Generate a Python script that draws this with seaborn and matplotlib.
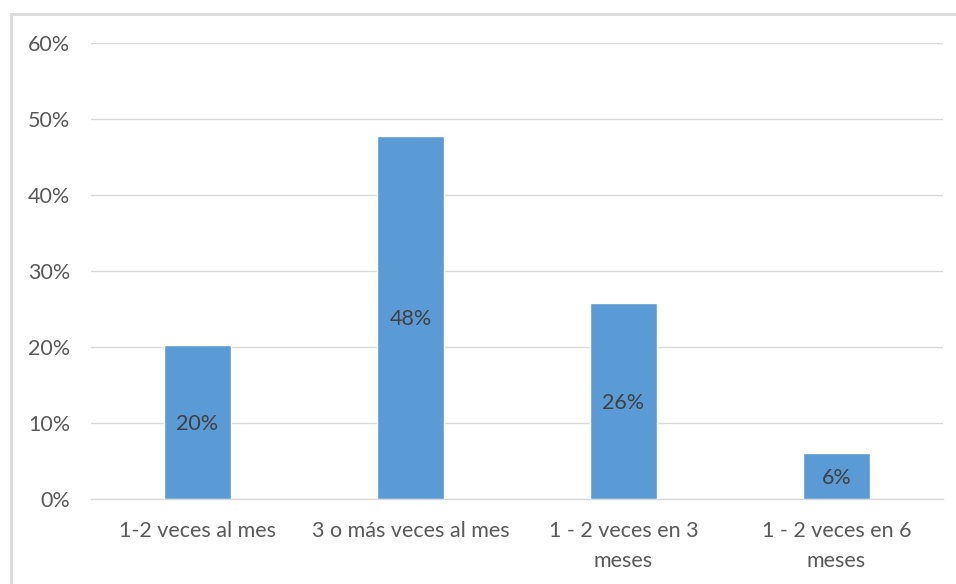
import matplotlib
matplotlib.use("Agg")
import matplotlib.pyplot as plt
import seaborn as sns
import pandas as pd
from matplotlib.patches import Rectangle
from matplotlib.ticker import PercentFormatter

categories = ["1-2 veces al mes", "3 o más veces al mes",
              "1 - 2 veces en 3\nmeses", "1 - 2 veces en 6\nmeses"]
shares = [0.203, 0.478, 0.258, 0.061]
y_ticks = [0.0, 0.1, 0.2, 0.3, 0.4, 0.5, 0.6]

df = pd.DataFrame({"frecuencia": categories, "porcentaje": shares})

sns.set_theme(style="white")
plt.rcParams["font.family"] = ["Lato", "DejaVu Sans"]

fig = plt.figure(figsize=(9.56, 5.84), dpi=100)
ax = fig.add_axes([91 / 956, 85 / 584, 852 / 956, 456 / 584])

sns.barplot(data=df, x="frecuencia", y="porcentaje", color="#5B9BD5",
            saturation=1, width=0.315, ax=ax, zorder=3)

ax.set_ylim(0, 0.6)
ax.set_xlim(-0.5, len(categories) - 0.5)
ax.set_yticks(y_ticks)
ax.yaxis.set_major_formatter(PercentFormatter(1.0, decimals=0))
ax.grid(axis="y", color="#d9d9d9", linewidth=1, zorder=0)
for s in ["left", "right", "top"]:
    ax.spines[s].set_visible(False)
ax.spines["bottom"].set_color("#d9d9d9")
ax.spines["bottom"].set_linewidth(1)
ax.tick_params(axis="both", length=0, labelsize=15.5, colors="#595959")
ax.tick_params(axis="x", pad=16)
ax.tick_params(axis="y", pad=15)
for lbl in ax.get_xticklabels():
    lbl.set_linespacing(1.6)
ax.set_xlabel("")
ax.set_ylabel("")

for i, v in enumerate(shares):
    ax.text(i, v / 2, f"{v:.0%}", ha="center", va="center_baseline",
            fontsize=15.5, color="#404040", zorder=4)

fig.patches.append(Rectangle((10.5 / 956, -0.1), 1.0, (584 - 14.5) / 584 + 0.1,
                             transform=fig.transFigure, fill=False,
                             edgecolor="#d9d9d9", linewidth=2, zorder=0))

fig.savefig("out.png", dpi=100)
